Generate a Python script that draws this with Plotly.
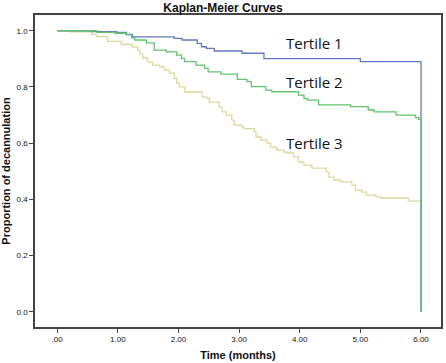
import plotly.graph_objects as go

# Tertile 1 (blue)
t1_time = [0.0, 0.57, 0.98, 1.14, 1.24, 1.93, 2.06, 2.31, 2.38, 2.46, 2.59, 3.05, 3.41, 5.00, 6.00, 6.00]
t1_surv = [1.0, 0.997, 0.994, 0.987, 0.978, 0.973, 0.967, 0.955, 0.943, 0.937, 0.928, 0.920, 0.901, 0.890, 0.890, 0.0]

# Tertile 2 (green)
t2_time = [0.0, 0.65, 0.95, 1.14, 1.23, 1.28, 1.47, 1.60, 1.80, 1.97, 2.05, 2.10, 2.29, 2.43, 2.49, 2.70,
           2.97, 3.13, 3.20, 3.44, 3.54, 3.98, 4.07, 4.13, 4.31, 4.84, 5.13, 5.23, 5.59, 5.91, 5.96, 6.00, 6.00]
t2_surv = [1.0, 0.994, 0.991, 0.985, 0.975, 0.967, 0.957, 0.931, 0.925, 0.913, 0.902, 0.890, 0.878, 0.866, 0.854, 0.846,
           0.827, 0.819, 0.801, 0.789, 0.783, 0.771, 0.759, 0.753, 0.736, 0.730, 0.718, 0.711, 0.700, 0.691, 0.685, 0.685, 0.0]

# Tertile 3 (beige)
t3_time = [0.0, 0.21, 0.57, 0.65, 0.83, 1.06, 1.24, 1.33, 1.36, 1.41, 1.49, 1.57, 1.69, 1.77, 1.85, 1.93, 1.97,
           2.01, 2.10, 2.39, 2.47, 2.51, 2.67, 2.72, 2.79, 2.88, 2.92, 3.05, 3.08, 3.25, 3.28, 3.36, 3.46, 3.52,
           3.62, 3.74, 3.79, 3.90, 3.98, 4.07, 4.20, 4.44, 4.48, 4.56, 4.67, 4.86, 4.92, 5.02, 5.10, 5.26, 5.35,
           5.79, 6.00, 6.00]
t3_surv = [1.0, 0.996, 0.987, 0.979, 0.962, 0.951, 0.942, 0.930, 0.917, 0.903, 0.889, 0.878, 0.871, 0.860, 0.849, 0.831, 0.814,
           0.800, 0.782, 0.764, 0.760, 0.746, 0.728, 0.711, 0.700, 0.682, 0.664, 0.657, 0.652, 0.640, 0.622, 0.611, 0.600, 0.586,
           0.576, 0.568, 0.565, 0.551, 0.533, 0.522, 0.511, 0.497, 0.479, 0.469, 0.462, 0.451, 0.433, 0.426, 0.415, 0.408, 0.405,
           0.394, 0.394, 0.0]

x_ticks = [0, 1, 2, 3, 4, 5, 6]
x_tick_labels = [".00", "1.00", "2.00", "3.00", "4.00", "5.00", "6.00"]
y_ticks = [0.0, 0.2, 0.4, 0.6, 0.8, 1.0]
y_tick_labels = ["0.0", "0.2", "0.4", "0.6", "0.8", "1.0"]

labels = ["Tertile 1", "Tertile 2", "Tertile 3"]
label_pos_x = [4.25, 4.25, 4.25]
label_pos_y = [0.957, 0.816, 0.60]

fig = go.Figure()
fig.add_trace(go.Scatter(x=t3_time, y=t3_surv, mode="lines", line=dict(color="#dcd89c", width=1.3, shape="hv"), name=labels[2]))
fig.add_trace(go.Scatter(x=t1_time, y=t1_surv, mode="lines", line=dict(color="#6477c2", width=1.3, shape="hv"), name=labels[0]))
fig.add_trace(go.Scatter(x=t2_time, y=t2_surv, mode="lines", line=dict(color="#62c46c", width=1.3, shape="hv"), name=labels[1]))

for lab, lx, ly in zip(labels, label_pos_x, label_pos_y):
    fig.add_annotation(x=lx, y=ly, text=lab, showarrow=False, xanchor="center", yanchor="middle",
                       font=dict(family="Open Sans", size=15, color="#111111"))

fig.update_layout(
    width=446, height=363,
    margin=dict(l=35, r=3, t=15, b=36),
    paper_bgcolor="white", plot_bgcolor="white",
    showlegend=False,
    title=dict(text="<b>Kaplan-Meier Curves</b>", x=0.5, xanchor="center", y=0.99, yanchor="top",
               font=dict(family="Liberation Sans", size=12, color="#111111")),
    font=dict(family="Liberation Sans", size=8, color="#111111"),
)
fig.update_xaxes(range=[-0.366, 6.33], tickvals=x_ticks, ticktext=x_tick_labels,
                 showgrid=False, zeroline=False, showline=True, linecolor="#444444", linewidth=1.5, mirror=True,
                 ticks="outside", ticklen=4, tickcolor="#444444",
                 title=dict(text="<b>Time (months)</b>", font=dict(size=11), standoff=8))
fig.update_yaxes(range=[-0.054, 1.056], tickvals=y_ticks, ticktext=y_tick_labels,
                 showgrid=False, zeroline=False, showline=True, linecolor="#444444", linewidth=1.5, mirror=True,
                 ticks="outside", ticklen=4, tickcolor="#444444",
                 title=dict(text="<b>Proportion of decannulation</b>", font=dict(size=11), standoff=4))

fig.write_html("out.html", config={"displayModeBar": False},
               post_script="document.body.style.margin='0px';document.body.style.overflow='hidden';")
